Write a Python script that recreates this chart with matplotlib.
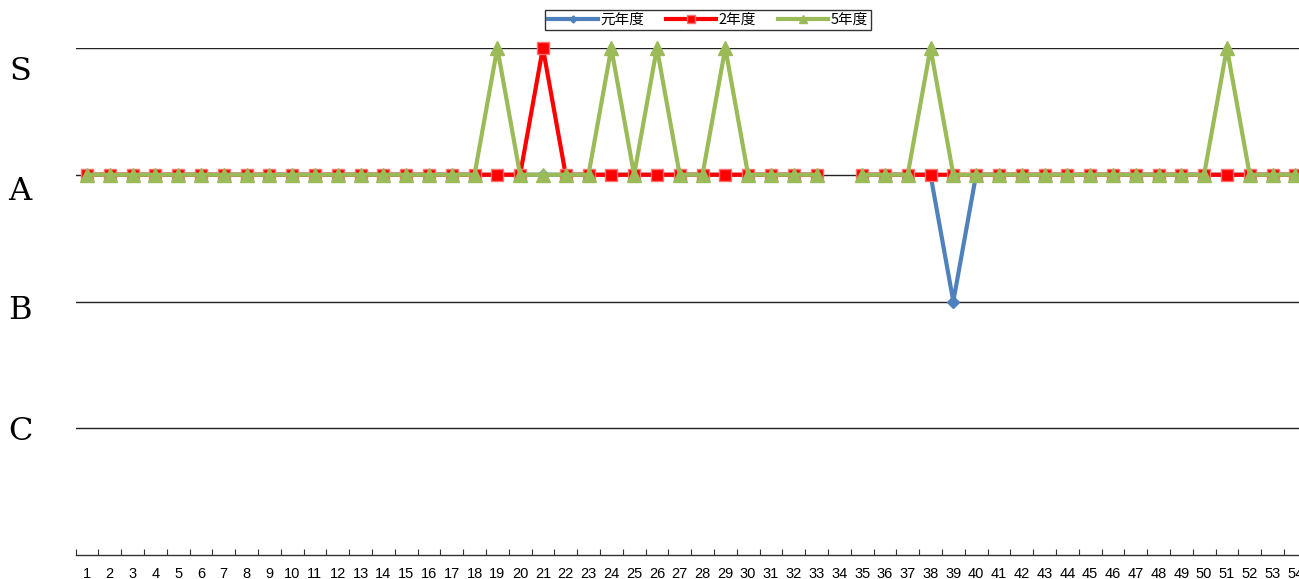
import numpy as np
import matplotlib
matplotlib.use("Agg")
import matplotlib.pyplot as plt

plt.rcParams['font.family'] = ['Noto Sans CJK JP', 'DejaVu Sans']

categories = [str(i) for i in range(1, 55)]
rank_labels = ["C", "B", "A", "S"]
rank_values = [1, 2, 3, 4]

nan = np.nan
# 元年度
s_gan = [3]*33 + [nan] + [3]*4 + [2] + [3]*15
# 2年度
s_2 = [3]*20 + [4] + [3]*12 + [nan] + [3]*20
# 5年度
s_5 = [3]*18 + [4] + [3]*4 + [4] + [3] + [4] + [3]*2 + [4] + [3]*4 + [nan] + [3]*3 + [4] + [3]*12 + [4] + [3]*3

series_names = ["元年度", "2年度", "5年度"]

W, H = 1299, 579
fig = plt.figure(figsize=(W/100, H/100), dpi=100)
cw = 22.8
left, right = 75.5, 75.5 + 54*cw
bottom, top = 555, 48
ax = fig.add_axes([left/W, 1 - bottom/H, (right-left)/W, (bottom-top)/H])

x = np.arange(1, 55)
ax.set_xlim(0.5, 54.5)
ax.set_ylim(0, 4)

for v in rank_values:
    ax.axhline(v, color='#222222', lw=1.0, zorder=1)

ax.plot(x, s_gan, color='#4F81BD', lw=3.0, marker='D', ms=6, mfc='#4F81BD', mec='#4F81BD', zorder=3, label=series_names[0], clip_on=False)
ax.plot(x, s_2, color='#FF0000', lw=3.0, marker='s', ms=9, mfc='#FF0000', mec='#FF7070', mew=1, zorder=4, label=series_names[1], clip_on=False)
ax.plot(x, s_5, color='#9BBB59', lw=3.0, marker='^', ms=9.5, mfc='#9BBB59', mec='#9BBB59', zorder=5, label=series_names[2], clip_on=False)

for sp in ['left', 'right', 'top']:
    ax.spines[sp].set_visible(False)
ax.spines['bottom'].set_color('#333333')
ax.spines['bottom'].set_linewidth(1.0)
ax.set_yticks([])
ax.set_xticks(np.arange(0.5, 55, 1), minor=False)
ax.set_xticklabels([])
ax.set_xticks(x, minor=True)
ax.set_xticklabels(categories, minor=True, fontsize=10.5, family='Liberation Sans')
ax.tick_params(axis='x', which='major', direction='in', length=4, color='#333333')
ax.tick_params(axis='x', which='minor', length=0, pad=9)

ypos = {"S": 71, "A": 191, "B": 311, "C": 432}
for lab in rank_labels:
    fig.text(20/W, 1 - ypos[lab]/H, lab, ha='center', va='center', fontsize=23, family='DejaVu Serif')

leg = fig.legend(loc='center', bbox_to_anchor=(708/W, 1 - 20/H), ncol=3, fontsize=10.5,
                 frameon=True, fancybox=False, edgecolor='black', handlelength=3.4,
                 borderpad=0.2, columnspacing=1.5, handletextpad=0.2, markerscale=0.6,
                 borderaxespad=0)
leg.get_frame().set_linewidth(1.0)

fig.savefig("out.png", dpi=100)
